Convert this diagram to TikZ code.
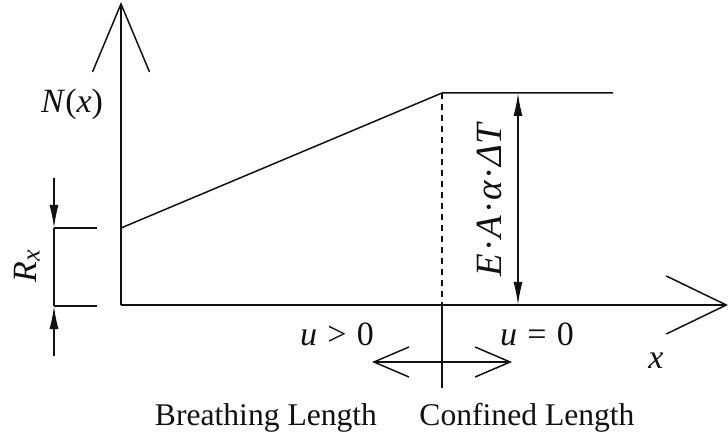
\documentclass[tikz,border=0pt]{standalone}
\usepackage{fontspec}
\setmainfont{Liberation Serif}
\usetikzlibrary{arrows.meta}
\definecolor{ink}{HTML}{111111}

\begin{document}
\begin{tikzpicture}[x=0.5pt,y=-0.5pt,
    line width=0.75pt,draw=ink,
    lbl/.style={font=\fontsize{15.8}{19}\selectfont,color=ink,inner sep=0pt},
    mlbl/.style={lbl,font=\fontsize{17}{20}\selectfont},
    axisarrow/.style={-{Straight Barb[length=34pt,width=28.5pt]}},
    dimtip/.style={-{Latex[length=11.5pt,width=4.5pt]}}]
      \useasboundingbox (0,0) rectangle (728,438);
      % axes
      \coordinate (O) at (121,305);
      \coordinate (ytop) at (121,2);
      \coordinate (xend) at (728,305);
      \draw[axisarrow] (O) -- (ytop);
      \draw[-{Straight Barb[length=30pt,width=29pt]}] (O) -- (xend);
      % normal force: rising part, then constant
      \coordinate (A) at (121,228);
      \coordinate (B) at (442,93);
      \coordinate (C) at (613,93);
      \draw (A) -- (B) -- (C);
      \coordinate (D) at (442,305);
      \coordinate (Dlow) at (442,388);
      \draw[dash pattern=on 3pt off 2.5pt] (B) -- (D);
      \draw (D) -- (Dlow);
      % R_x dimension
      \coordinate (Rtop) at (54,178);
      \coordinate (Ra) at (54,228);
      \coordinate (Rb) at (54,306);
      \coordinate (Rbot) at (54,356);
      \draw (Ra) -- (97,228);
      \draw (Rb) -- (97,306);
      \draw (Ra) -- (Rb);
      \draw[dimtip] (Rtop) -- (Ra);
      \draw[dimtip] (Rbot) -- (Rb);
      \node[mlbl,rotate=90] (Rlab) at (27,266) {\textit{R}\raisebox{-0.2ex}{\fontsize{13}{15}\selectfont\textit{x}}};
      % E A alpha dT dimension
      \coordinate (Ea) at (518,93);
      \coordinate (Eb) at (518,305);
      \draw[{Latex[length=11.5pt,width=4.5pt]}-{Latex[length=11.5pt,width=4.5pt]}] (Ea) -- (Eb);
      \node[mlbl,font=\fontsize{18.5}{22}\selectfont,rotate=90] (EAlab) at (489,199) {\textit{E\kern0.08em·\kern0.08em A\kern0.08em·\kern0.08em α\kern0.08em·\kern0.08em ΔT}};
      % two zones
      \coordinate (Lft) at (372,362);
      \coordinate (Rgt) at (512,362);
      \draw[{Straight Barb[length=17.5pt,width=15pt]}-{Straight Barb[length=17.5pt,width=15pt]}] (Lft) -- (Rgt);
      \node[mlbl,anchor=base] (Nlab) at (72,113) {\textit{N}(\textit{x})};
      \node[mlbl,anchor=base] (ugt) at (337,345) {\textit{u}\kern0.3em>\kern0.3em0};
      \node[mlbl,anchor=base] (ueq) at (537,345) {\textit{u}\kern0.3em=\kern0.3em0};
      \node[mlbl,anchor=base] (xlab) at (656,368) {\textit{x}};
      \node[lbl,anchor=base] (breath) at (266,425) {Breathing Length};
      \node[lbl,anchor=base] (confined) at (527,425) {Confined Length};
    \end{tikzpicture}
\end{document}
